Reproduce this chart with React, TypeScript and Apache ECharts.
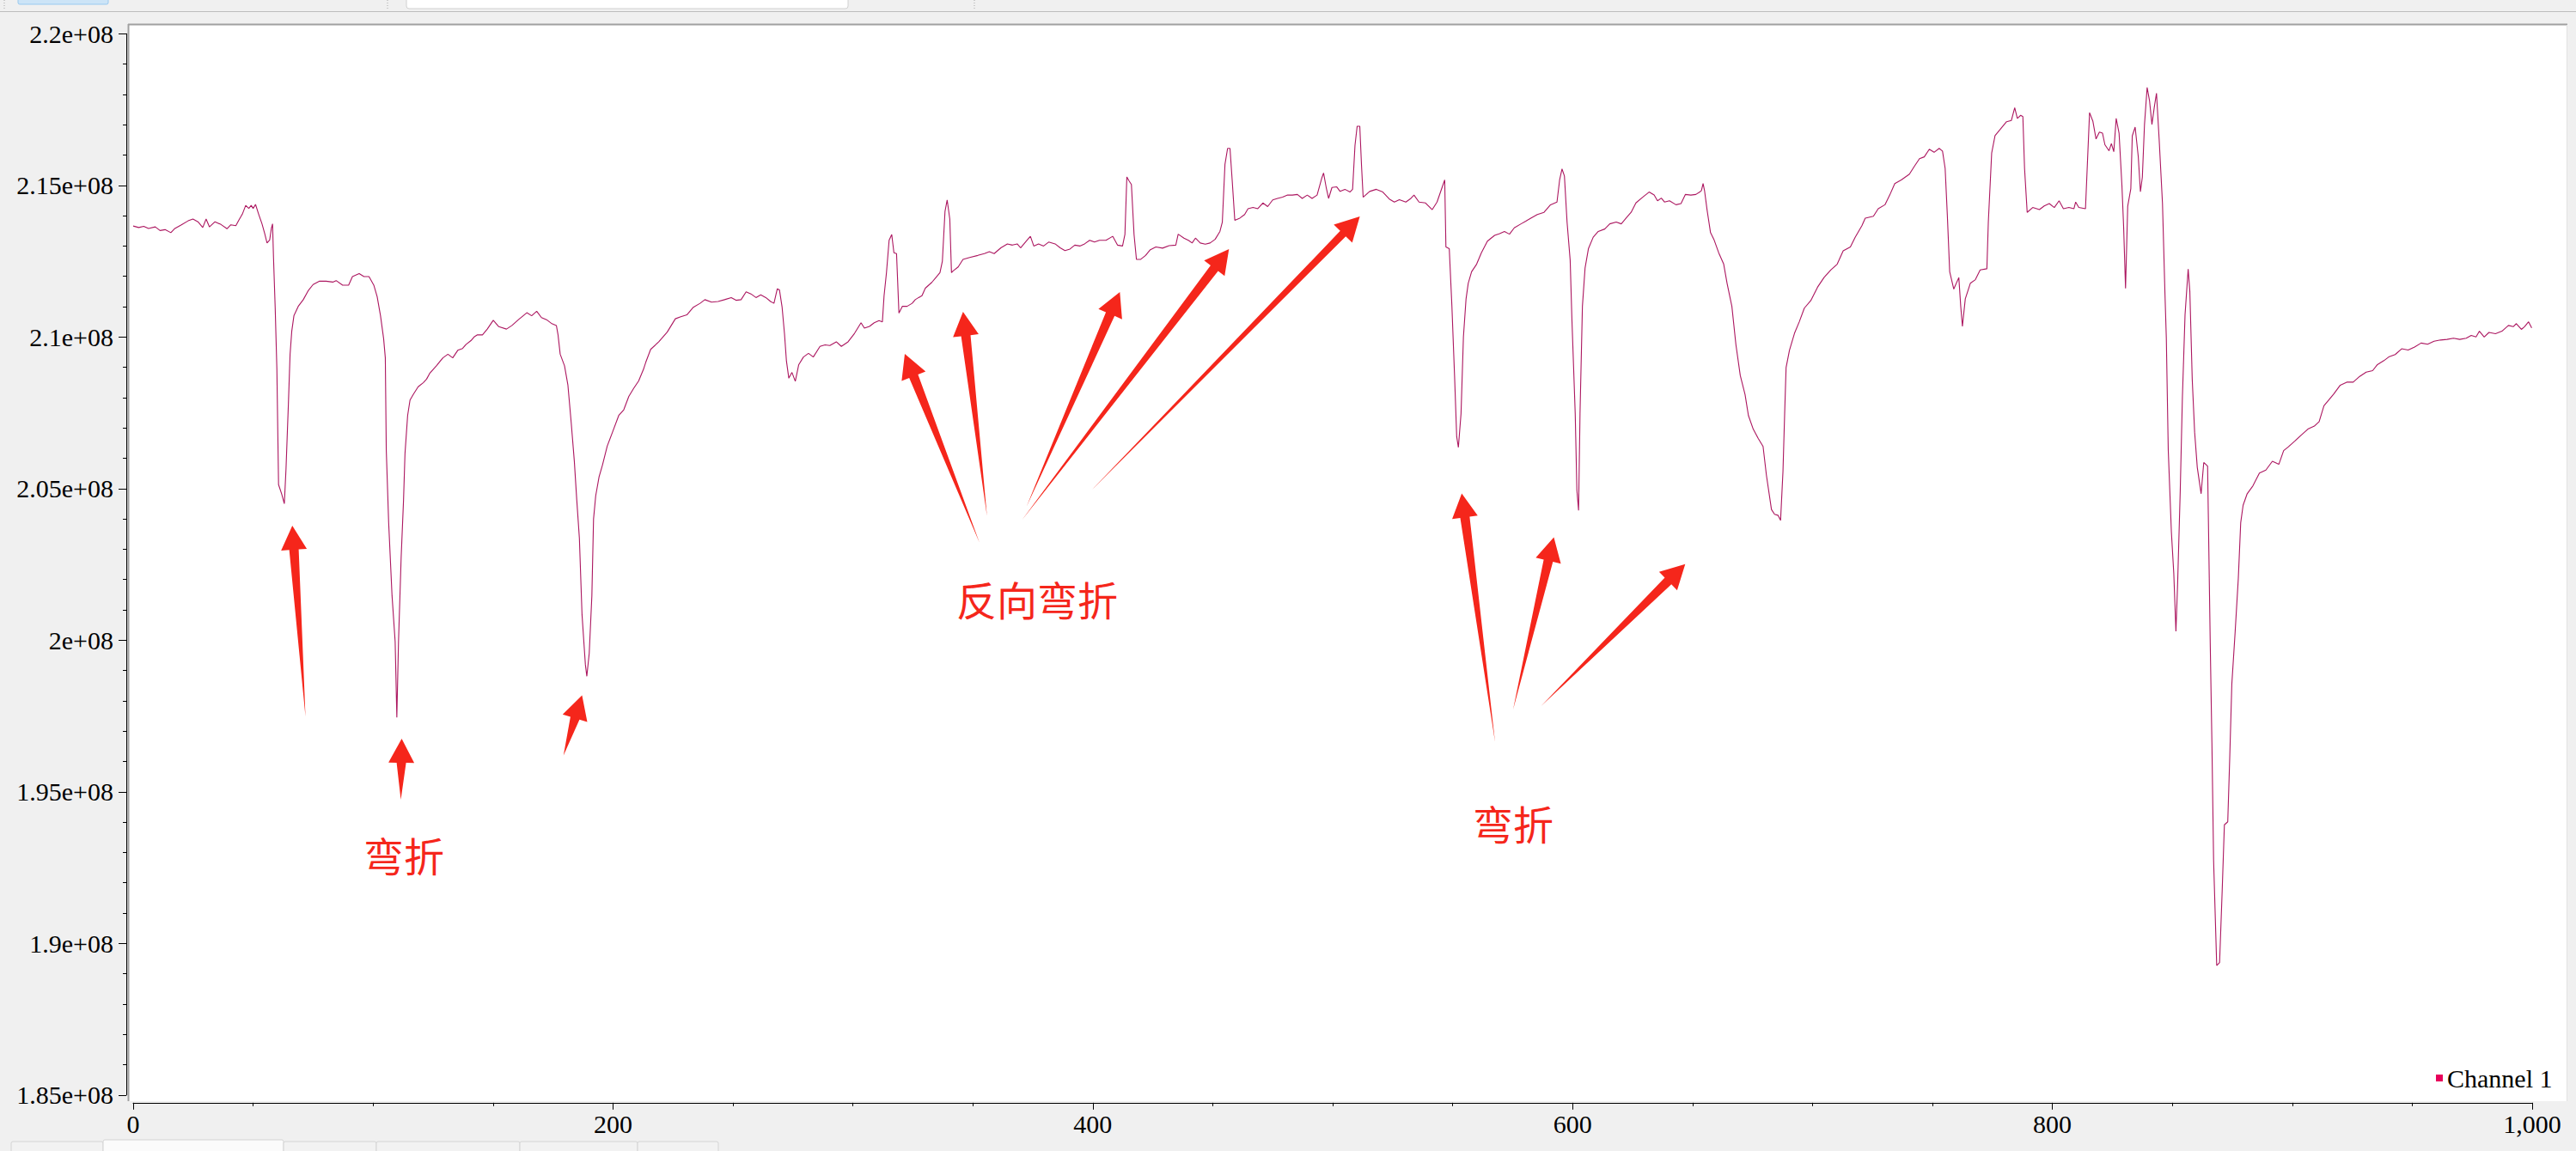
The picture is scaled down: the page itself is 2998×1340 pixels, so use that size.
import React, { useEffect, useRef } from "react";
import * as echarts from "echarts";

// ---------------- data ----------------
const seriesName = "Channel 1";
const VALUE_UNIT = 1e6; // channel values below are in units of 1e6

const sampleIndex = [
  0, 2.3, 4.4, 6.4, 9.2, 11.2, 13.3, 15.7, 17.4, 20.1, 22.9, 24.9, 27.0, 29.0, 30.4, 31.8, 34.1, 36.6, 39.1, 40.7,
  42.8, 44.1, 45.5, 46.9, 48.2, 49.2, 50.0, 51.0, 52.3, 53.7, 54.8, 55.8, 56.9, 57.6, 58.1, 58.5, 59.2, 59.9, 60.6, 61.9,
  63.0, 63.7, 64.7, 65.4, 66.1, 67.0, 68.8, 70.9, 72.9, 75.0, 77.7, 80.4, 83.2, 84.6, 87.3, 89.8, 91.4, 94.2, 96.2, 98.3,
  100.3, 101.7, 103.1, 104.4, 105.1, 105.5, 106.5, 107.9, 109.2, 109.9, 110.6, 111.7, 112.7, 113.3, 114.4, 115.4, 116.8, 118.8, 120.9, 122.3,
  123.6, 126.4, 129.1, 131.2, 133.2, 135.3, 137.3, 138.7, 140.8, 142.1, 143.5, 145.6, 147.6, 150.1, 152.4, 155.6, 157.9, 160.6, 164.1, 166.1,
  168.2, 170.2, 172.3, 174.3, 176.4, 177.1, 178.0, 179.8, 181.2, 182.6, 183.9, 184.9, 186.0, 187.1, 188.5, 189.1, 190.1, 191.2, 191.9, 192.8,
  194.2, 195.6, 197.6, 199.7, 202.4, 204.5, 206.6, 208.6, 210.7, 212.7,
  213.6, 215.7, 219.1, 222.6, 226.0, 228.0, 230.8, 233.5, 236.3, 238.3, 241.1, 243.8, 246.5, 249.3, 251.3, 253.4, 255.5, 257.5, 259.6, 261.6,
  263.7, 265.7, 267.1, 268.5, 269.4, 270.5, 271.5, 272.3, 273.3, 274.6, 276.0, 277.4, 279.4, 281.5, 283.5, 286.3, 288.4, 290.4, 293.1, 295.2,
  298.0, 300.7, 303.4, 304.8, 306.9, 308.9, 310.9, 312.3, 313.0, 314.0, 315.1, 316.2, 317.1, 318.2, 319.2, 320.6, 322.6, 324.7, 326.0, 327.4,
  328.8, 330.2, 332.9, 334.9, 336.3, 337.3, 338.4, 339.3, 340.4, 341.1, 341.8, 343.9, 345.9, 348.7, 352.1, 354.8, 356.9, 358.9, 361.7, 364.4,
  366.5, 368.5, 369.9, 372.6, 374.0, 375.4, 377.4, 379.5, 381.6, 384.3, 386.4, 388.4, 390.5, 392.5, 394.6, 396.6, 398.7, 400.7, 402.8, 405.5,
  408.3, 410.3, 412.4, 413.4, 414.2, 415.1, 416.1, 417.2, 418.2, 420.0, 422.0, 424.0,
  426.3, 429.1, 431.8, 434.6, 435.6, 438.0, 440.0, 441.4, 442.8, 444.8, 446.9, 448.9, 451.0, 453.0, 454.0, 455.1, 456.2, 457.2, 458.1, 459.2,
  461.3, 463.3, 464.7, 466.8, 468.8, 470.9, 472.9, 475.0, 477.0, 479.1, 481.2, 483.2, 485.3, 487.3, 489.4, 491.4, 493.5, 495.5, 496.2, 497.3,
  498.3, 499.7, 501.7, 503.1, 505.1, 507.2, 508.3, 509.3, 510.2, 511.3, 512.0, 512.7, 515.4, 518.2, 520.9, 523.6, 525.7, 527.8, 530.5, 532.6,
  533.9, 536.0, 538.7, 541.5, 543.5, 545.6, 546.7, 547.2, 548.6, 549.7, 550.8, 551.7, 552.4, 553.5, 554.5, 555.6, 556.5, 557.9, 560.0, 562.0,
  564.5, 567.5, 569.6, 571.6, 573.7, 575.7, 578.5, 580.5, 582.6, 585.3, 588.1, 590.8, 593.5, 594.6, 595.6, 596.6, 597.7, 599.0, 599.7, 601.1,
  601.8, 602.5, 603.1, 604.1, 605.2, 606.6, 608.6, 610.7, 613.4, 615.5, 618.2, 620.3, 622.3, 624.4, 626.4, 629.2, 631.9, 634.0, 635.4,
  637.0, 638.3, 640.4, 643.1, 645.2, 647.0, 649.3, 651.4, 653.0, 653.7, 654.4, 655.0, 656.1, 657.5, 658.9, 660.9, 663.0, 664.4, 666.4, 668.1,
  669.9, 671.9, 673.3, 675.3, 677.4, 679.4, 680.8, 682.9, 684.2, 685.6, 686.7, 687.7, 688.4, 689.0, 690.4, 692.5, 694.5, 696.6, 699.3, 702.1,
  704.8, 707.6, 710.3, 712.8, 715.8, 717.8, 720.6, 722.0, 725.4, 727.4, 730.2, 732.2, 734.3, 737.0, 740.4, 742.5, 744.6, 746.6, 748.7, 750.7,
  752.8, 754.2, 755.3, 756.2, 757.2, 758.9, 761.0, 761.8, 762.5, 763.7, 765.8, 767.9, 769.9, 772.7, 773.3, 774.7, 776.1, 778.1, 780.9, 782.9,
  784.3, 785.4, 786.8, 787.7, 788.4, 789.5, 791.8, 794.6, 796.6, 798.7, 800.8, 802.8, 804.6, 806.9, 809.0, 809.7, 811.0, 813.8,
  815.5, 816.9, 818.2, 819.6, 820.9, 821.9, 823.6, 824.6, 825.6, 826.6, 827.8, 829.0, 829.7, 830.5, 831.4, 832.7, 833.3, 834.5, 835.8, 836.7,
  837.5, 838.4, 839.5, 840.5, 841.5, 842.5, 843.4, 844.5, 845.9, 846.9, 847.5, 848.3, 849.6, 850.6, 851.5, 852.2, 853.3, 854.2, 855.3, 856.6,
  857.3, 858.3, 859.3, 860.4, 862.0, 863.1, 864.7, 865.0, 865.8, 866.5, 867.2, 868.5, 869.7, 870.8, 871.7, 873.1, 873.9, 874.8, 876.2, 877.5,
  878.5, 879.5, 881.2, 883.6, 886.3, 889.0, 891.7, 894.4, 896.4, 898.4, 901.1, 903.8, 906.5, 909.2, 911.2, 913.2, 915.3, 917.3, 920.0, 922.7,
  925.4, 928.1, 930.8, 933.5, 935.5, 938.2, 940.2, 942.9, 945.6, 948.3, 951.0, 953.7, 956.4, 959.1, 961.8, 964.5, 967.2, 969.8, 972.5, 974.6,
  976.6, 978.0, 980.0, 982.0, 984.7, 987.4, 990.1, 992.1, 993.4, 995.5, 996.8, 998.5, 999.8,
];

const channel1 = [
  213.66, 213.61, 213.65, 213.58, 213.63, 213.51, 213.54, 213.44, 213.58, 213.70, 213.83, 213.89, 213.80, 213.61, 213.89, 213.63, 213.80, 213.71, 213.57, 213.70,
  213.67, 213.86, 214.05, 214.34, 214.24, 214.34, 214.24, 214.37, 214.05, 213.73, 213.42, 213.10, 213.20, 213.58, 213.73, 212.60, 210.95, 208.93, 205.13, 204.82,
  204.50, 205.64, 207.79, 209.43, 210.19, 210.70, 211.01, 211.23, 211.52, 211.73, 211.84, 211.84, 211.81, 211.86, 211.71, 211.71, 211.99, 212.09, 211.99, 211.99,
  211.71, 211.33, 210.70, 209.94, 209.31, 206.27, 203.87, 201.47, 199.95, 197.45, 199.95, 202.73, 204.63, 206.15, 207.41, 207.92, 208.11, 208.36, 208.49, 208.61,
  208.80, 209.05, 209.31, 209.43, 209.31, 209.56, 209.62, 209.75, 209.88, 210.00, 210.07, 210.07, 210.26, 210.55, 210.34, 210.26, 210.38, 210.57, 210.80, 210.70,
  210.85, 210.64, 210.57, 210.45, 210.38, 210.07, 209.43, 209.05, 208.42, 207.16, 205.89, 204.63, 203.36, 200.84, 199.19, 198.81, 199.57, 201.47, 204.00, 204.76,
  205.39, 205.77, 206.40, 206.84, 207.41, 207.60, 208.04, 208.30, 208.55, 208.93,
  209.15, 209.59, 209.84, 210.16, 210.60, 210.66, 210.73, 210.98, 211.11, 211.23, 211.15, 211.17, 211.23, 211.30, 211.21, 211.23, 211.49, 211.42, 211.30, 211.39,
  211.30, 211.17, 211.11, 211.59, 211.55, 210.98, 210.10, 209.21, 208.64, 208.83, 208.54, 209.08, 209.34, 209.46, 209.34, 209.69, 209.74, 209.72, 209.84, 209.69,
  209.84, 210.12, 210.47, 210.29, 210.35, 210.47, 210.54, 210.50, 211.36, 212.12, 213.19, 213.38, 212.78, 212.75, 210.79, 211.01, 211.01, 211.11, 211.23, 211.30,
  211.36, 211.61, 211.80, 211.99, 212.12, 212.50, 214.14, 214.52, 213.89, 212.12, 212.18, 212.31, 212.56, 212.62, 212.69, 212.75, 212.81, 212.75, 212.94, 213.07,
  213.03, 213.07, 212.94, 213.19, 213.32, 213.00, 213.07, 213.00, 213.13, 213.07, 212.94, 212.85, 212.90, 213.03, 213.00, 213.07, 213.19, 213.13, 213.19, 213.19,
  213.32, 213.03, 213.00, 213.38, 215.28, 215.15, 215.03, 213.38, 212.56, 212.56, 212.69, 212.88,
  212.97, 212.93, 213.01, 213.03, 213.39, 213.26, 213.18, 213.10, 213.26, 213.10, 213.06, 213.10, 213.22, 213.48, 213.79, 215.69, 216.22, 216.22, 215.18, 213.85,
  213.92, 214.04, 214.23, 214.27, 214.23, 214.42, 214.30, 214.52, 214.57, 214.61, 214.68, 214.68, 214.70, 214.57, 214.68, 214.57, 214.68, 215.25, 215.41, 214.93,
  214.57, 214.93, 214.95, 214.80, 214.87, 214.78, 214.87, 216.32, 216.95, 216.95, 215.69, 214.61, 214.80, 214.87, 214.78, 214.55, 214.45, 214.53, 214.45, 214.57,
  214.68, 214.45, 214.42, 214.20, 214.45, 214.93, 215.18, 212.97, 212.91, 211.01, 208.73, 206.71, 206.36, 207.47, 210.00, 211.26, 211.77, 212.15, 212.40, 212.78,
  213.16, 213.35, 213.41, 213.48, 213.39, 213.60, 213.73, 213.82, 213.92, 214.04, 214.11, 214.36, 214.45, 215.18, 215.54, 215.31, 213.79, 212.53, 210.63, 207.47,
  204.94, 204.28, 207.47, 211.01, 212.27, 212.91, 213.29, 213.48, 213.56, 213.73, 213.79, 213.73, 213.92, 214.11, 214.42, 214.61, 214.78, 214.68, 214.49,
  214.58, 214.45, 214.49, 214.36, 214.40, 214.70, 214.68, 214.70, 214.78, 214.83, 215.06, 214.83, 214.17, 213.44, 213.22, 212.78, 212.40, 211.77, 211.01, 209.74,
  208.73, 208.10, 207.41, 206.96, 206.65, 206.39, 205.44, 204.31, 204.15, 204.12, 203.95, 205.57, 207.47, 208.99, 209.56, 210.12, 210.50, 210.95, 211.20, 211.64,
  211.96, 212.21, 212.40, 212.84, 212.97, 213.29, 213.67, 213.92, 213.98, 214.23, 214.36, 214.68, 215.06, 215.18, 215.37, 215.63, 215.88, 215.94, 216.19, 216.09,
  216.22, 216.13, 215.56, 214.04, 212.15, 211.58, 211.96, 211.01, 210.35, 211.26, 211.77, 211.89, 212.21, 212.25, 213.79, 216.07, 216.64, 216.83, 217.10, 217.14,
  217.56, 217.21, 217.31, 217.27, 215.56, 214.11, 214.27, 214.20, 214.32, 214.40, 214.27, 214.49, 214.23, 214.27, 214.23, 214.45, 214.27, 214.23,
  217.40, 217.11, 216.53, 216.76, 216.72, 216.34, 216.14, 216.38, 216.11, 217.21, 216.72, 214.98, 213.63, 211.60, 214.31, 214.89, 216.63, 216.92, 215.95, 214.79,
  215.27, 217.01, 218.23, 217.79, 217.01, 217.59, 218.04, 216.53, 214.40, 211.50, 209.96, 206.28, 203.58, 202.22, 200.29, 201.84, 204.93, 208.02, 210.73, 212.24,
  211.50, 208.60, 206.86, 205.70, 204.83, 205.86, 205.74, 204.16, 199.90, 196.62, 192.75, 189.27, 189.37, 191.78, 193.91, 194.01, 196.04, 198.55, 200.29, 202.03,
  203.87, 204.45, 204.83, 205.09, 205.51, 205.61, 205.90, 205.80, 206.25, 206.38, 206.57, 206.77, 206.96, 207.06, 207.21, 207.73, 207.93, 208.12, 208.41, 208.51,
  208.51, 208.70, 208.84, 208.89, 209.09, 209.22, 209.34, 209.42, 209.61, 209.57, 209.67, 209.80, 209.76, 209.86, 209.90, 209.92, 209.96, 209.92, 209.96, 210.05,
  210.00, 210.19, 210.00, 210.15, 210.11, 210.19, 210.38, 210.34, 210.44, 210.25, 210.34, 210.50, 210.30,
];

const xTickValues = [0, 200, 400, 600, 800, 1000];
const xTickLabels = ["0", "200", "400", "600", "800", "1,000"];
const yTickValues = [185e6, 190e6, 195e6, 200e6, 205e6, 210e6, 215e6, 220e6];
const yTickLabels = ["1.85e+08", "1.9e+08", "1.95e+08", "2e+08", "2.05e+08", "2.1e+08", "2.15e+08", "2.2e+08"];

const annotationTexts = ["弯折", "反向弯折", "弯折"];

// ---------------- styling helpers ----------------
const LABEL_FONT = "'Liberation Serif', 'Times New Roman', serif";
const LINE_COLOR = "#ac1760";
const LEGEND_COLOR = "#e8005a";
const ANNOT_COLOR = "#f5261b";

type Pt = [number, number];

function arrowPolygon(tail: Pt, tip: Pt, headLen = 28, headHalf = 15, shaftHalf = 5.5): Pt[] {
  const dx = tip[0] - tail[0];
  const dy = tip[1] - tail[1];
  const len = Math.hypot(dx, dy);
  const ux = dx / len;
  const uy = dy / len;
  const nx = -uy;
  const ny = ux;
  const bx = tip[0] - ux * headLen;
  const by = tip[1] - uy * headLen;
  return [
    tip,
    [bx + nx * headHalf, by + ny * headHalf],
    [bx + nx * shaftHalf, by + ny * shaftHalf],
    tail,
    [bx - nx * shaftHalf, by - ny * shaftHalf],
    [bx - nx * headHalf, by - ny * headHalf],
  ];
}

const arrowDefs: { tail: Pt; tip: Pt; shaft?: number }[] = [
  { tail: [355.5, 834], tip: [340.2, 612] },
  { tail: [466.5, 931], tip: [467.5, 860] },
  { tail: [655.8, 879.5], tip: [677.4, 809.4] },
  { tail: [1140, 632], tip: [1053, 412] },
  { tail: [1148.7, 601], tip: [1120.8, 363] },
  { tail: [1194.6, 590], tip: [1303.3, 340] },
  { tail: [1189.7, 605], tip: [1430.3, 290] },
  { tail: [1270, 571], tip: [1582.6, 252], shaft: 4.5 },
  { tail: [1740, 864], tip: [1701.2, 574.6] },
  { tail: [1761, 826], tip: [1808.4, 625.5] },
  { tail: [1793.5, 822], tip: [1961.3, 656.8] },
];

const textPlacements: Pt[] = [
  [470, 994],
  [1207, 696],
  [1761, 957],
];

function buildGraphic() {
  const els: any[] = [];
  // top tab strip
  els.push({ type: "rect", z: -20, silent: true, shape: { x: 21, y: -4, width: 105, height: 9, r: 2 }, style: { fill: "#cce4f7", stroke: "#99c9ef", lineWidth: 1 } });
  els.push({ type: "rect", z: -20, silent: true, shape: { x: 473, y: -5, width: 514, height: 15, r: 3 }, style: { fill: "#ffffff", stroke: "#d0d0d0", lineWidth: 1 } });
  [5, 451, 1134].forEach((x) =>
    els.push({ type: "line", z: -20, silent: true, shape: { x1: x, y1: 0, x2: x, y2: 11 }, style: { stroke: "#a8a8a8", lineWidth: 1, lineDash: [1, 2] } })
  );
  els.push({ type: "line", z: -20, silent: true, shape: { x1: 0, y1: 13.5, x2: 2998, y2: 13.5 }, style: { stroke: "#bdbdbd", lineWidth: 1 } });
  // plot canvas
  els.push({ type: "rect", z: -20, silent: true, shape: { x: 150, y: 29, width: 2837, height: 1253 }, style: { fill: "#ffffff" } });
  els.push({ type: "line", z: -19, silent: true, shape: { x1: 149, y1: 28.5, x2: 2988, y2: 28.5 }, style: { stroke: "#a0a0a0", lineWidth: 2 } });
  els.push({ type: "line", z: -19, silent: true, shape: { x1: 149.5, y1: 28, x2: 149.5, y2: 1282 }, style: { stroke: "#a0a0a0", lineWidth: 2 } });
  els.push({ type: "line", z: -19, silent: true, shape: { x1: 2987.5, y1: 29, x2: 2987.5, y2: 1282 }, style: { stroke: "#e2e2e2", lineWidth: 1 } });
  // bottom tabs
  const tabs: [number, number][] = [[13, 120], [120, 330], [330, 438], [438, 605], [605, 742], [742, 836]];
  tabs.forEach(([a, b], i) =>
    els.push({
      type: "rect",
      z: -20,
      silent: true,
      shape: { x: a, y: i === 1 ? 1327 : 1329, width: b - a, height: 20, r: 2 },
      style: { fill: i === 1 ? "#fbfbfb" : "#f2f2f2", stroke: "#d4d4d4", lineWidth: 1 },
    })
  );
  // annotations
  arrowDefs.forEach((a) =>
    els.push({
      type: "polygon",
      z: 100,
      silent: true,
      shape: { points: arrowPolygon(a.tail, a.tip, 28, 15, a.shaft ?? 5.5) },
      style: { fill: ANNOT_COLOR, stroke: null },
    })
  );
  annotationTexts.forEach((t, i) =>
    els.push({
      type: "text",
      z: 100,
      silent: true,
      x: textPlacements[i][0],
      y: textPlacements[i][1],
      style: {
        text: t,
        fill: ANNOT_COLOR,
        fontSize: 47,
        fontFamily: "'Noto Sans CJK SC', sans-serif",
        align: "center",
        verticalAlign: "middle",
        textAlign: "center",
        textVerticalAlign: "middle",
      },
    })
  );
  return els;
}

function lookup(values: number[], labels: string[], v: number) {
  for (let i = 0; i < values.length; i++) {
    if (Math.abs(values[i] - v) < 1e-6 * Math.max(1, Math.abs(values[i]))) return labels[i];
  }
  return "";
}

export default function App() {
  const ref = useRef<HTMLDivElement>(null);

  useEffect(() => {
    if (!ref.current) return;
    const chart = echarts.init(ref.current, null, { renderer: "svg" });
    const data = sampleIndex.map((x, i) => [x, channel1[i] * VALUE_UNIT]);
    chart.setOption({
      animation: false,
      backgroundColor: "#f0f0f0",
      grid: { left: 155, right: 51, top: 39.3, bottom: 65.2, containLabel: false, show: false },
      xAxis: {
        type: "value",
        min: 0,
        max: 1000,
        interval: 200,
        offset: 9,
        axisLine: { show: true, onZero: false, lineStyle: { color: "#000", width: 1 } },
        axisTick: { show: true, inside: false, length: 8, lineStyle: { color: "#000", width: 1 } },
        minorTick: { show: true, splitNumber: 4, length: 4, lineStyle: { color: "#000", width: 1 } },
        splitLine: { show: false },
        minorSplitLine: { show: false },
        axisLabel: {
          margin: 10,
          color: "#000",
          fontSize: 30,
          fontFamily: LABEL_FONT,
          formatter: (v: number) => lookup(xTickValues, xTickLabels, v),
        },
      },
      yAxis: {
        type: "value",
        min: 185e6,
        max: 220e6,
        interval: 5e6,
        offset: 8,
        axisLine: { show: true, onZero: false, lineStyle: { color: "#000", width: 1 } },
        axisTick: { show: true, inside: false, length: 9, lineStyle: { color: "#000", width: 1 } },
        minorTick: { show: true, splitNumber: 5, length: 4, lineStyle: { color: "#000", width: 1 } },
        splitLine: { show: false },
        minorSplitLine: { show: false },
        axisLabel: {
          margin: 15,
          color: "#000",
          fontSize: 30,
          fontFamily: LABEL_FONT,
          formatter: (v: number) => lookup(yTickValues, yTickLabels, v),
        },
      },
      legend: {
        show: true,
        left: 2835,
        top: 1240,
        padding: 0,
        itemWidth: 8,
        itemHeight: 8,
        selectedMode: false,
        textStyle: { color: "#000", fontSize: 30, fontFamily: LABEL_FONT },
        data: [{ name: seriesName, icon: "rect", itemStyle: { color: LEGEND_COLOR } }],
      },
      graphic: buildGraphic(),
      series: [
        {
          name: seriesName,
          type: "line",
          data,
          showSymbol: false,
          symbol: "none",
          silent: true,
          lineStyle: { color: LINE_COLOR, width: 1.1 },
          itemStyle: { color: LINE_COLOR },
          z: 5,
        },
      ],
    });
    return () => chart.dispose();
  }, []);

  return (
    <div
      ref={ref}
      style={{ position: "fixed", left: 0, top: 0, width: 2998, height: 1340, background: "#f0f0f0" }}
    />
  );
}
